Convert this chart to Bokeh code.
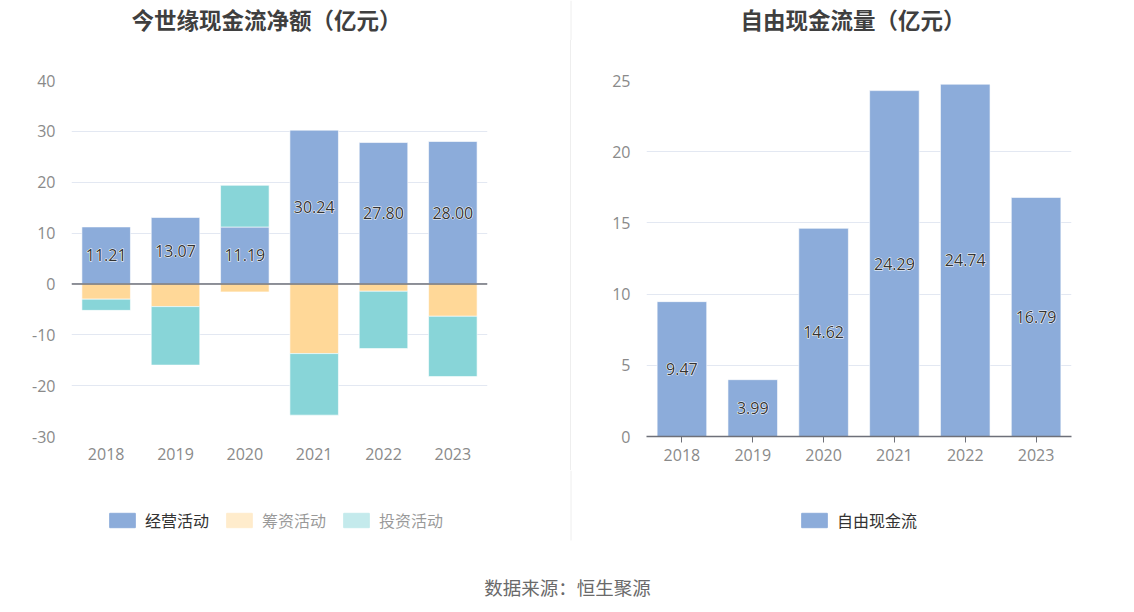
from bokeh.plotting import figure
from bokeh.models import (FactorRange, Range1d, FixedTicker, Span, Legend, LegendItem)
from bokeh.layouts import column, row
from bokeh.core.properties import value
from bokeh.embed import file_html
from bokeh.resources import INLINE

# ---------------- data ----------------
years = ["2018", "2019", "2020", "2021", "2022", "2023"]
operating = [11.21, 13.07, 11.19, 30.24, 27.80, 28.00]      # 经营活动
financing = [-3.0, -4.46, -1.57, -13.7, -1.44, -6.36]        # 筹资活动
investing = [-2.2, -11.5, 8.2, -12.1, -11.27, -11.86]        # 投资活动
free_cf = [9.47, 3.99, 14.62, 24.29, 24.74, 16.79]           # 自由现金流
left_ticks = [-30, -20, -10, 0, 10, 20, 30, 40]
right_ticks = [0, 5, 10, 15, 20, 25]
left_title = "今世缘现金流净额（亿元）"
right_title = "自由现金流量（亿元）"
left_legend = ["经营活动", "筹资活动", "投资活动"]
right_legend = ["自由现金流"]
source_text = "数据来源：恒生聚源"

BLUE = "#8CACDA"
ORANGE = "#FFD898"
TEAL = "#88D5D8"
GRID = "#E3E8F2"
AXIS = "#6E7079"
TICK = "#8A8A8A"
DIVIDER = "#EEEEEE"
NUM_FONT = "Open Sans"
CJK_FONT = "Noto Sans CJK SC"
NAN = float("nan")

W_ALL = 1127
DIV_X = 570.5


def strip(height):
    s = figure(x_range=Range1d(0, W_ALL), y_range=Range1d(0, height), width=W_ALL,
               height=height, min_border=0, output_backend="svg", toolbar_location=None)
    s.axis.visible = False
    s.grid.grid_line_color = None
    s.outline_line_color = None
    s.background_fill_color = "white"
    s.border_fill_color = "white"
    return s


def style_axes(p, ticks):
    p.yaxis.ticker = FixedTicker(ticks=ticks)
    p.yaxis.major_label_overrides = {t: str(t) for t in ticks}
    p.yaxis.axis_line_color = None
    p.yaxis.major_tick_line_color = None
    p.yaxis.minor_tick_line_color = None
    p.yaxis.major_label_text_color = TICK
    p.yaxis.major_label_text_font = NUM_FONT
    p.yaxis.major_label_text_font_size = "16px"
    p.yaxis.major_label_standoff = 10
    p.xaxis.major_label_text_color = TICK
    p.xaxis.major_label_text_font = NUM_FONT
    p.xaxis.major_label_text_font_size = "16px"
    p.xaxis.minor_tick_line_color = None
    p.xgrid.grid_line_color = None
    p.ygrid.grid_line_color = GRID
    p.ygrid.ticker = FixedTicker(ticks=ticks)
    p.outline_line_color = None
    p.background_fill_color = "white"
    p.border_fill_color = "white"


def add_labels(p, xs, vals):
    ys = [v / 2 for v in vals]
    ts = ["%.2f" % v for v in vals]
    p.text(x=xs, y=ys, text=ts, text_align="center", text_baseline="middle",
           text_font=value(NUM_FONT), text_font_size="16px", text_color="white",
           text_outline_color="white")
    p.text(x=xs, y=ys, text=ts, text_align="center", text_baseline="middle",
           text_font=value(NUM_FONT), text_font_size="16px", text_color="#333333")


def add_legend(p, items, loc):
    lg = Legend(items=items, location=loc, orientation="horizontal",
                padding=0, margin=0, spacing=14, label_standoff=7,
                glyph_width=32, glyph_height=18, label_height=18,
                label_text_font=CJK_FONT, label_text_font_size="16px",
                label_text_color="#333333", label_text_baseline="middle",
                click_policy="hide",
                inactive_fill_color="white", inactive_fill_alpha=0.5,
                background_fill_alpha=0, border_line_color=None)
    p.add_layout(lg, "center")


# ---------------- title strip ----------------
H0 = 40
p0 = strip(H0)
p0.segment(x0=[DIV_X], y0=[0], x1=[DIV_X], y1=[H0], line_color=DIVIDER, line_width=1)
p0.text(x=[131, 740], y=[H0 - 18, H0 - 18], text=[left_title, right_title],
        text_align="left", text_baseline="middle", text_font=value(CJK_FONT),
        text_font_size="22.5px", text_font_style="bold", text_color="#3F3F3F")

# ---------------- left chart ----------------
pos_base = [0.0] * len(years)
neg_base = [0.0] * len(years)


def stack(vals):
    bottoms, tops = [], []
    for i, v in enumerate(vals):
        if v >= 0:
            b = pos_base[i]
            pos_base[i] += v
        else:
            b = neg_base[i]
            neg_base[i] += v
        bottoms.append(b)
        tops.append(b + v)
    return bottoms, tops


op_b, op_t = stack(operating)
fi_b, fi_t = stack(financing)
in_b, in_t = stack(investing)

p1 = figure(x_range=FactorRange(*years), y_range=Range1d(-30, 40),
            frame_width=416, frame_height=356,
            min_border_left=71, min_border_right=83,
            min_border_top=80 - H0, min_border_bottom=34,
            output_backend="svg", toolbar_location=None)
p1.vbar(x=years, bottom=op_b, top=op_t, width=0.7, fill_color=BLUE,
        line_color="white", line_alpha=0.6, line_width=1)
p1.vbar(x=years, bottom=fi_b, top=fi_t, width=0.7, fill_color=ORANGE,
        line_color="white", line_alpha=0.6, line_width=1)
p1.vbar(x=years, bottom=in_b, top=in_t, width=0.7, fill_color=TEAL,
        line_color="white", line_alpha=0.6, line_width=1)
p1.add_layout(Span(location=0, dimension="width", line_color=AXIS, line_width=1.5))
add_labels(p1, years, operating)
style_axes(p1, left_ticks)
p1.xaxis.axis_line_color = None
p1.xaxis.major_tick_line_color = None
p1.xaxis.major_tick_out = 0
p1.xaxis.major_label_standoff = 11

# ---------------- right chart ----------------
p2 = figure(x_range=FactorRange(*years), y_range=Range1d(0, 25),
            frame_width=424, frame_height=356,
            min_border_left=75, min_border_right=57,
            min_border_top=80 - H0, min_border_bottom=34,
            output_backend="svg", toolbar_location=None,
            styles={"border-left": "1px solid " + DIVIDER})
p2.vbar(x=years, top=free_cf, width=0.7, fill_color=BLUE,
        line_color="white", line_alpha=0.6, line_width=1)
add_labels(p2, years, free_cf)
style_axes(p2, right_ticks)
p2.xaxis.axis_line_color = AXIS
p2.xaxis.axis_line_width = 1.5
p2.xaxis.major_tick_line_color = AXIS
p2.xaxis.major_tick_in = 0
p2.xaxis.major_tick_out = 6
p2.xaxis.major_label_standoff = 6

# ---------------- legends + source strip ----------------
H3 = 140
p3 = strip(H3)
p3.segment(x0=[DIV_X], y0=[H3], x1=[DIV_X], y1=[70], line_color=DIVIDER, line_width=1)
# legend swatch renderers (no visible marks); 2nd and 3rd shown inactive like the reference
g_op = p3.vbar(x=[NAN], top=[NAN], width=1, fill_color=BLUE, line_color=BLUE)
g_fi = p3.vbar(x=[NAN], top=[NAN], width=1, fill_color=ORANGE, line_color=ORANGE, visible=False)
g_in = p3.vbar(x=[NAN], top=[NAN], width=1, fill_color=TEAL, line_color=TEAL, visible=False)
g_fcf = p3.vbar(x=[NAN], top=[NAN], width=1, fill_color=BLUE, line_color=BLUE)
add_legend(p3, [LegendItem(label=left_legend[0], renderers=[g_op]),
                LegendItem(label=left_legend[1], renderers=[g_fi]),
                LegendItem(label=left_legend[2], renderers=[g_in])], (106, 78))
add_legend(p3, [LegendItem(label=right_legend[0], renderers=[g_fcf])], (798, 78))
p3.text(x=[567], y=[24], text=[source_text], text_align="center",
        text_baseline="middle", text_font=value(CJK_FONT), text_font_size="18.5px",
        text_color="#6A6A6A")

layout = column(p0, row(p1, p2), p3)
open("out.html", "w").write(file_html(layout, INLINE))
